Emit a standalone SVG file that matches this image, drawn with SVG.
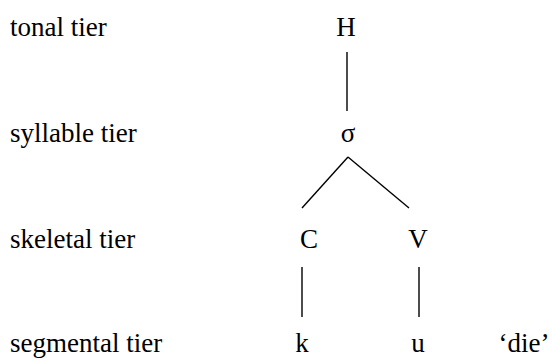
<svg xmlns="http://www.w3.org/2000/svg" width="552" height="359" viewBox="0 0 552 359">
  <style>
    text { font-family: 'Liberation Serif', 'Times New Roman', serif; font-size: 27px; fill: #000; }
    .sym { text-anchor: middle; }
    .link { stroke: #000; stroke-width: 1.4; fill: none; }
  </style>
  <rect width="552" height="359" fill="#fff"/>

  <!-- tier labels -->
  <g id="labels">
    <text x="10" y="36">tonal tier</text>
    <text x="10" y="142">syllable tier</text>
    <text x="10" y="248">skeletal tier</text>
    <text x="10" y="352">segmental tier</text>
  </g>

  <!-- association lines -->
  <g id="connectors">
    <line class="link" x1="347" y1="52" x2="347" y2="111"/>
    <line class="link" x1="348" y1="157" x2="302" y2="208"/>
    <line class="link" x1="348" y1="157" x2="409" y2="208"/>
    <line class="link" x1="302" y1="267" x2="302" y2="317"/>
    <line class="link" x1="419" y1="267" x2="419" y2="317"/>
  </g>

  <g id="node-H"><text class="sym" x="346" y="36">H</text></g>
  <g id="node-syllable"><text class="sym" x="348" y="142">σ</text></g>
  <g id="node-C"><text class="sym" x="309" y="248">C</text></g>
  <g id="node-V"><text class="sym" x="418" y="248">V</text></g>
  <g id="node-k"><text class="sym" x="302" y="352">k</text></g>
  <g id="node-u"><text class="sym" x="418" y="352">u</text></g>
  <g id="gloss"><text class="sym" x="524" y="352">‘die’</text></g>
</svg>
